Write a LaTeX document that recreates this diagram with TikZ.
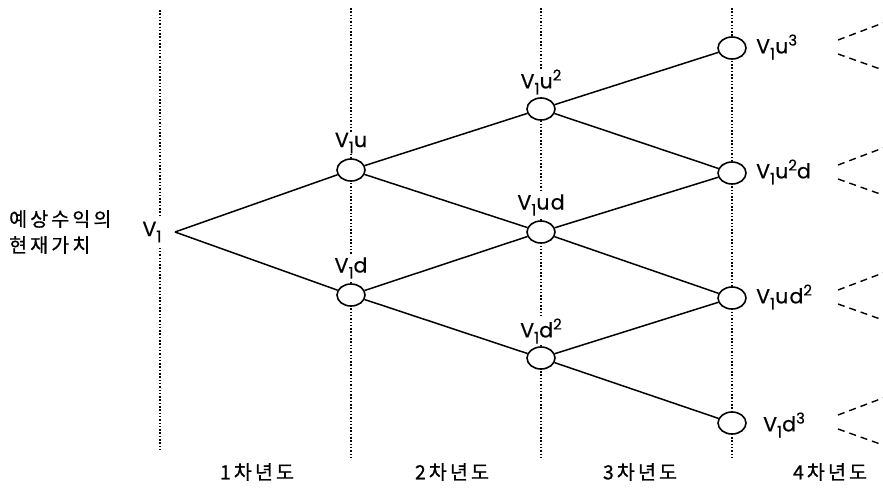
\documentclass[tikz,border=0pt]{standalone}
\usepackage{fontspec}
\setmainfont[LetterSpace=6, FakeBold=0.5]{Poppins}
\newfontfamily\kr[LetterSpace=16, FakeBold=0.7]{Noto Sans CJK KR}
\usetikzlibrary{shapes.geometric}
\newcommand{\lo}[1]{\raisebox{-0.3em}{\fontsize{16}{16}\selectfont #1}}
\newcommand{\hi}[1]{\raisebox{0.38em}{\fontsize{15}{15}\selectfont #1}}
\tikzset{
  ell/.style={shape=ellipse, draw, line width=1.6pt, fill=white, minimum width=28pt, minimum height=22pt, inner sep=0pt},
  lab/.style={font=\fontsize{20.5}{23}\selectfont, inner sep=1pt, fill=white},
  krlab/.style={font=\kr\fontsize{19.5}{22}\selectfont, inner sep=0pt},
  guide/.style={line width=1.6pt, dash pattern=on 1.5pt off 1.8pt},
  link/.style={line width=1.5pt},
  fan/.style={line width=1.4pt, dash pattern=on 7pt off 5pt}
}
\begin{document}
\begin{tikzpicture}[x=1pt,y=-1pt]
\useasboundingbox (0,0) rectangle (883,491);
% guides
\draw[guide] (160,10) -- (160,450);
\draw[guide] (351,8) -- (351,457);
\draw[guide] (541,8) -- (541,457);
\draw[guide] (732,8) -- (732,457);
% nodes
\node[ell] (u)   at (351,170) {};
\node[ell] (d)   at (351,295) {};
\node[ell] (uu)  at (541,109) {};
\node[ell] (ud)  at (541,232) {};
\node[ell] (dd)  at (541,358) {};
\node[ell] (uuu) at (732,48) {};
\node[ell] (uud) at (732,173) {};
\node[ell] (udd) at (732,298) {};
\node[ell] (ddd) at (732,423) {};
\coordinate (r) at (175,232);
% labels
\node[lab, inner sep=6pt] (lv) at (152,232) {V\lo{1}};
\node[lab] (lu)  at (351,143) {V\lo{1}u};
\node[lab] (ld)  at (351,268) {V\lo{1}d};
\node[lab] (luu) at (541,82) {V\lo{1}u\hi{2}};
\node[lab] (lud) at (541,205) {V\lo{1}ud};
\node[lab] (ldd) at (541,331) {V\lo{1}d\hi{2}};
\node[lab, anchor=west] (luuu) at (755,47) {V\lo{1}u\hi{3}};
\node[lab, anchor=west] (luud) at (755,172) {V\lo{1}u\hi{2}d};
\node[lab, anchor=west] (ludd) at (755,297) {V\lo{1}ud\hi{2}};
\node[lab, anchor=west] (lddd) at (762,425) {V\lo{1}d\hi{3}};
% edges
\draw[link] (r) -- (u);
\draw[link] (r) -- (d);
\draw[link] (u) -- (uu);
\draw[link] (u) -- (ud);
\draw[link] (d) -- (ud);
\draw[link] (d) -- (dd);
\draw[link] (uu) -- (uuu);
\draw[link] (uu) -- (uud);
\draw[link] (ud) -- (uud);
\draw[link] (ud) -- (udd);
\draw[link] (dd) -- (udd);
\draw[link] (dd) -- (ddd);
% fans
\foreach \n/\c in {a/48,b/173,c/298,e/423}{
  \coordinate (s\n1) at (838,\c-8);
  \coordinate (t\n1) at (883,\c-25);
  \coordinate (s\n2) at (838,\c+6);
  \coordinate (t\n2) at (883,\c+22);
  \draw[fan] (s\n1) -- (t\n1);
  \draw[fan] (s\n2) -- (t\n2);
}
% korean texts
\node[krlab, anchor=west] (t1) at (9,219) {예상수익의};
\node[krlab, anchor=west] (t2) at (9,245) {현재가치};
\node[krlab] (y1) at (257,472) {1차년도};
\node[krlab] (y2) at (452,472) {2차년도};
\node[krlab] (y3) at (640,472) {3차년도};
\node[krlab] (y4) at (830,472) {4차년도};
\end{tikzpicture}
\end{document}
